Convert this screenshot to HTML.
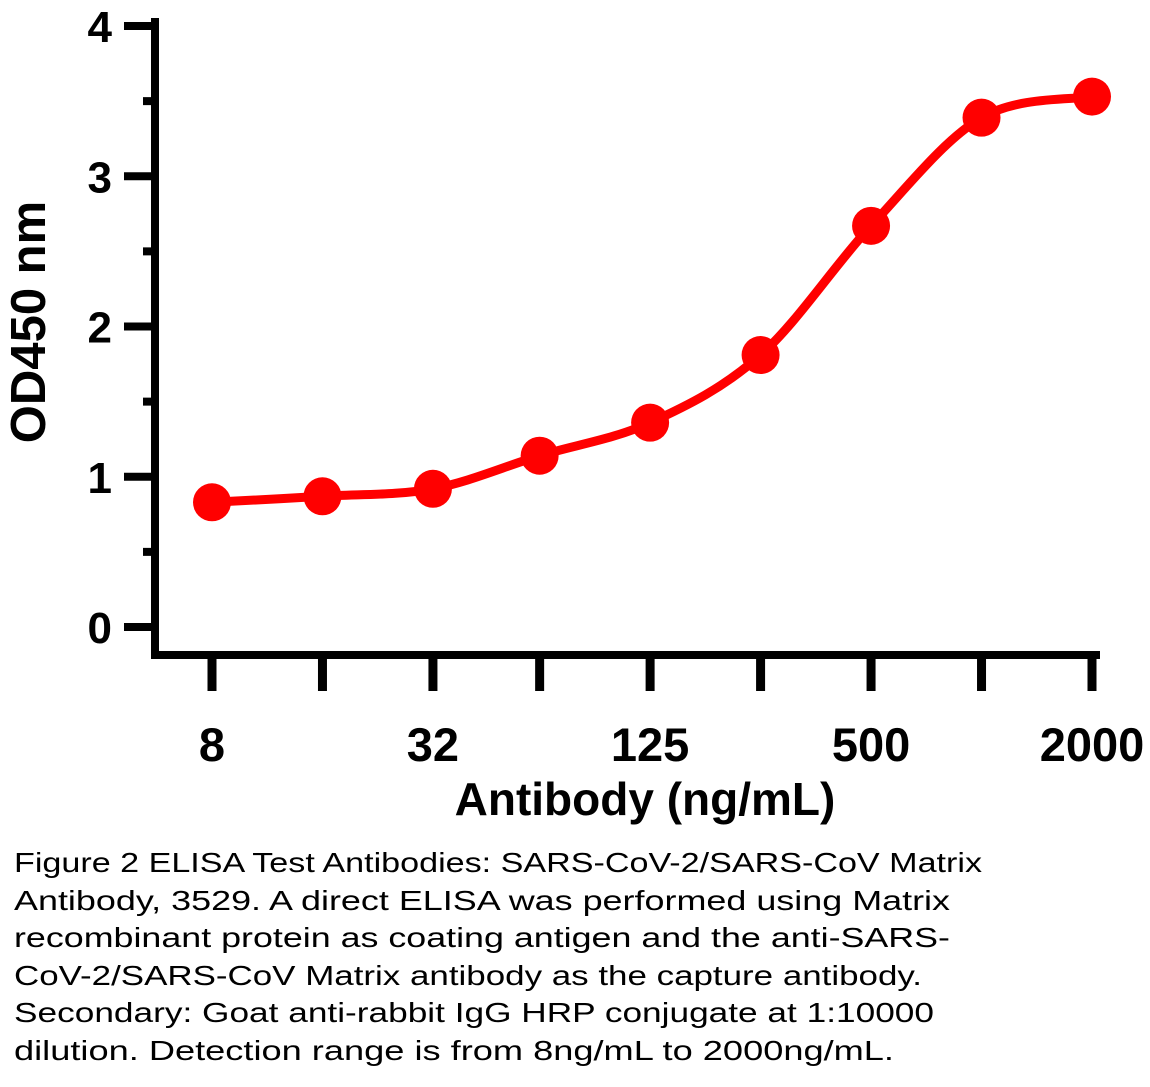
<!DOCTYPE html>
<html><head><meta charset="utf-8"><style>
html,body{margin:0;padding:0;background:#fff;}
svg{display:block;}
</style></head><body>
<svg id="chart" width="1150" height="1087" viewBox="0 0 1150 1087" font-family="Liberation Sans, Arial, sans-serif">
<g id="axes"></g>
<g id="series"></g>
<text x="645" y="815" font-size="46" font-weight="bold" text-anchor="middle">Antibody (ng/mL)</text>
<text transform="translate(45,322) rotate(-90)" font-size="49" font-weight="bold" text-anchor="middle">OD450 nm</text>
<g font-size="28" fill="#000">
<text x="14" y="872" textLength="968" lengthAdjust="spacingAndGlyphs">Figure 2 ELISA Test Antibodies: SARS-CoV-2/SARS-CoV Matrix</text>
<text x="14" y="910" textLength="936" lengthAdjust="spacingAndGlyphs">Antibody, 3529. A direct ELISA was performed using Matrix</text>
<text x="14" y="947" textLength="936" lengthAdjust="spacingAndGlyphs">recombinant protein as coating antigen and the anti-SARS-</text>
<text x="14" y="985" textLength="908" lengthAdjust="spacingAndGlyphs">CoV-2/SARS-CoV Matrix antibody as the capture antibody.</text>
<text x="14" y="1022" textLength="920" lengthAdjust="spacingAndGlyphs">Secondary: Goat anti-rabbit IgG HRP conjugate at 1:10000</text>
<text x="14" y="1060" textLength="880" lengthAdjust="spacingAndGlyphs">dilution. Detection range is from 8ng/mL to 2000ng/mL.</text>
</g>
</svg>
<script>
const concentrations = [8, 16, 32, 62.5, 125, 250, 500, 1000, 2000];
const odValues = [0.83, 0.87, 0.92, 1.14, 1.36, 1.81, 2.67, 3.39, 3.53];
const xTickLabels = ["8", "", "32", "", "125", "", "500", "", "2000"];
const yTicks = [0, 1, 2, 3, 4];
const yMinorTicks = [0.5, 1.5, 2.5, 3.5];

const NS = "http://www.w3.org/2000/svg";
const x0 = 212, x1 = 1092;
const lmin = Math.log2(8), lmax = Math.log2(2000);
function xScale(v){ return x0 + (Math.log2(v) - lmin) / (lmax - lmin) * (x1 - x0); }
function yScale(v){ return 627 - v * 150.25; }
function mk(tag, attrs, parent){ const e = document.createElementNS(NS, tag); for (const k in attrs) e.setAttribute(k, attrs[k]); parent.appendChild(e); return e; }

const axes = document.getElementById('axes');
let el = mk('line', {x1:155, y1:18, x2:155, y2:657, stroke:'#000', 'stroke-width':8}, axes);


el = mk('line', {x1:151, y1:655, x2:1100, y2:655, stroke:'#000', 'stroke-width':8}, axes);



yTicks.forEach(v => {
  const y = yScale(v);
  const t = mk('line', {x1:124, y1:y, x2:155, y2:y, stroke:'#000', 'stroke-width':8}, axes);
  
  
  const l = mk('text', {x:112, y:y + 16, 'font-size':44, 'font-weight':'bold', 'text-anchor':'end'}, axes);
  l.textContent = v;
  
  
});
yMinorTicks.forEach(v => {
  const y = yScale(v);
  const t = mk('line', {x1:143, y1:y, x2:155, y2:y, stroke:'#000', 'stroke-width':8}, axes);
  
  
});
concentrations.forEach((c, i) => {
  const x = xScale(c);
  const t = mk('line', {x1:x, y1:655, x2:x, y2:691, stroke:'#000', 'stroke-width':9}, axes);
  
  
  if (xTickLabels[i]) {
    const l = mk('text', {x:x, y:761, 'font-size':47, 'font-weight':'bold', 'text-anchor':'middle'}, axes);
    l.textContent = xTickLabels[i];
    
    
  }
});

const series = document.getElementById('series');
const pts = concentrations.map((c, i) => [xScale(c), yScale(odValues[i])]);
let d = 'M' + pts[0][0] + ',' + pts[0][1];
for (let i = 0; i < pts.length - 1; i++) {
  const p0 = pts[Math.max(0, i - 1)], p1 = pts[i], p2 = pts[i + 1], p3 = pts[Math.min(pts.length - 1, i + 2)];
  const c1x = p1[0] + (p2[0] - p0[0]) / 6, c1y = p1[1] + (p2[1] - p0[1]) / 6;
  const c2x = p2[0] - (p3[0] - p1[0]) / 6, c2y = p2[1] - (p3[1] - p1[1]) / 6;
  d += ' C' + c1x + ',' + c1y + ' ' + c2x + ',' + c2y + ' ' + p2[0] + ',' + p2[1];
}
const path = mk('path', {d:d, fill:'none', stroke:'#ff0000', 'stroke-width':9, 'stroke-linejoin':'round'}, series);


pts.forEach(p => {
  const c = mk('circle', {cx:p[0], cy:p[1], r:19, fill:'#ff0000'}, series);
  
  
});
</script>
</body></html>
